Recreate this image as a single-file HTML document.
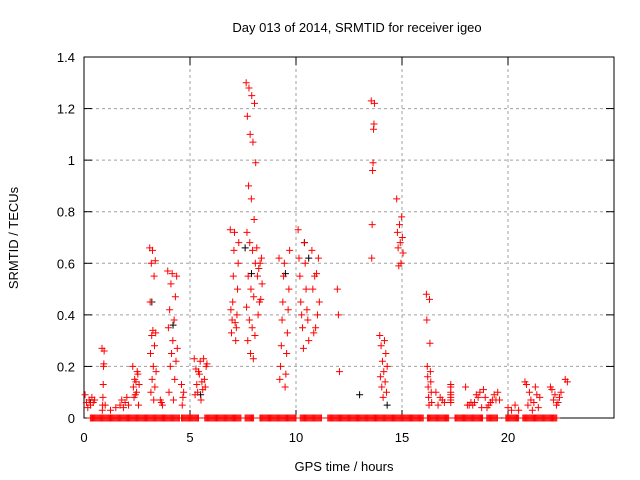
<!DOCTYPE html>
<html><head><meta charset="utf-8"><style>
body{margin:0;background:#fff}
svg{display:block;font-family:"Liberation Sans",sans-serif}
</style></head><body>
<svg id="chart" width="640" height="480">
<text x="357" y="32" font-size="13" text-anchor="middle">Day 013 of 2014, SRMTID for receiver igeo</text>
<text x="344" y="471" font-size="13" text-anchor="middle">GPS time / hours</text>
<text transform="translate(18,238) rotate(-90)" font-size="13" text-anchor="middle">SRMTID / TECUs</text>
<g id="grid"></g><g id="axes"></g><g id="marks"></g>
</svg>
<script>
const xTicks=[0,5,10,15,20];
const yTicks=[0,0.2,0.4,0.6,0.8,1,1.2,1.4];
const yTickLabels=["0","0.2","0.4","0.6","0.8","1","1.2","1.4"];
const clusterStart=[0.05,0.85,1.0,1.7,2.3,3.1,3.6,3.95,4.6,5.2,6.9,7.65,8.15,9.2,10.1,10.75,11.95,13.55,13.95,14.75,16.15,16.6,17.3,18.0,20.0,20.8,22.0,22.7];
const clusterEnd=[0.5,0.95,1.5,2.1,2.6,3.4,3.7,4.4,4.7,5.8,7.3,8.1,8.4,9.7,10.6,11.1,12.05,13.7,14.3,15.05,16.4,17.0,17.6,19.6,20.5,21.5,22.5,22.8];
const clusterValues=[
[0.09,0.07,0.06,0.08,0.05,0.07,0.04,0.06],
[0.27,0.26,0.21,0.2,0.13,0.08,0.05,0.03],
[0.05,0.03,0.04],
[0.05,0.07,0.04,0.06,0.08,0.05],
[0.2,0.18,0.15,0.13,0.1,0.08,0.05,0.14,0.12,0.17,0.09],
[0.66,0.65,0.61,0.6,0.55,0.45,0.34,0.33,0.32,0.28,0.25,0.2,0.18,0.15,0.12,0.1,0.07],
[0.07,0.06,0.05],
[0.57,0.56,0.55,0.52,0.47,0.42,0.38,0.35,0.3,0.27,0.25,0.22,0.2,0.15,0.1,0.07],
[0.13,0.1,0.08,0.05],
[0.23,0.22,0.2,0.18,0.15,0.13,0.11,0.09,0.07,0.21,0.17,0.12,0.1,0.23,0.19,0.14],
[0.73,0.72,0.68,0.65,0.6,0.55,0.5,0.45,0.4,0.38,0.35,0.33,0.3,0.42,0.37],
[1.3,1.28,1.25,1.22,1.17,1.1,1.07,0.99,0.9,0.85,0.77,0.72,0.68,0.65,0.6,0.55,0.5,0.47,0.43,0.38,0.35,0.32,0.3,0.25,0.23],
[0.66,0.62,0.6,0.58,0.55,0.52,0.46,0.45,0.4],
[0.62,0.6,0.65,0.55,0.5,0.45,0.42,0.38,0.33,0.28,0.25,0.2,0.17,0.15,0.12],
[0.73,0.68,0.62,0.6,0.55,0.5,0.45,0.42,0.4,0.38,0.35,0.3,0.27],
[0.65,0.62,0.56,0.55,0.5,0.45,0.4,0.35,0.33],
[0.5,0.4,0.18],
[1.23,1.22,1.14,1.12,0.99,0.96,0.75,0.62],
[0.32,0.3,0.28,0.25,0.22,0.2,0.18,0.16,0.14,0.12,0.1,0.08],
[0.85,0.78,0.75,0.72,0.7,0.68,0.66,0.64,0.6,0.59],
[0.48,0.46,0.38,0.29,0.2,0.18,0.16,0.14,0.12,0.1,0.08,0.06,0.05],
[0.1,0.08,0.06,0.05,0.07],
[0.13,0.12,0.1,0.08,0.07,0.06,0.09],
[0.12,0.08,0.06,0.05,0.1,0.07,0.05,0.04,0.09,0.06,0.11,0.07,0.05,0.08,0.1,0.06,0.04,0.07,0.09,0.05],
[0.04,0.03,0.05,0.03],
[0.14,0.12,0.1,0.08,0.06,0.05,0.04,0.03,0.13,0.09,0.07],
[0.12,0.1,0.08,0.06,0.05,0.09,0.07,0.11],
[0.15,0.14]];
const blackHours=[3.2,4.2,7.6,7.9,9.5,10.4,10.6,13.0,14.3,0.3,5.5];
const blackValues=[0.45,0.36,0.66,0.56,0.56,0.68,0.62,0.09,0.05,0.06,0.09];
const zeroStart=[0.3,4.6,5.7,7.6,8.3,10.2,11.5,16.2,17.5,19.0,19.9,20.7];
const zeroEnd=[4.5,5.4,7.4,8.0,10.0,11.2,16.0,17.2,18.8,19.5,20.5,22.3];

const L=84,R=614,T=57,B=418;
const xs=h=>L+(R-L)*h/25;
const ys=v=>B-(B-T)*v/1.4;
const NS="http://www.w3.org/2000/svg";
function mk(tag,attrs,parent){const e=document.createElementNS(NS,tag);for(const k in attrs)e.setAttribute(k,attrs[k]);parent.appendChild(e);return e;}
const grid=document.getElementById('grid'),axes=document.getElementById('axes'),marks=document.getElementById('marks');
yTicks.forEach((v,i)=>{
  const y=ys(v);
  if(i>0&&i<yTicks.length-1){const g=mk('line',{x1:L,x2:R,y1:y,y2:y,stroke:'#a0a0a0','stroke-dasharray':'3,3'},grid);
  
  }
  mk('line',{x1:L,x2:L+8,y1:y,y2:y,stroke:'#000'},axes);
  mk('line',{x1:R,x2:R-8,y1:y,y2:y,stroke:'#000'},axes);
  const t=mk('text',{x:L-9,y:y+5,'font-size':13,'text-anchor':'end'},axes);
  t.textContent=yTickLabels[i];
  
  
});
xTicks.forEach(h=>{
  const x=xs(h);
  if(h>0){const g=mk('line',{x1:x,x2:x,y1:T,y2:B,stroke:'#a0a0a0','stroke-dasharray':'3,3'},grid);
  
  }
  mk('line',{x1:x,x2:x,y1:B,y2:B-8,stroke:'#000'},axes);
  mk('line',{x1:x,x2:x,y1:T,y2:T+8,stroke:'#000'},axes);
  const t=mk('text',{x:x,y:B+24,'font-size':13,'text-anchor':'middle'},axes);
  t.textContent=String(h);
  
  
});
const frame=mk('rect',{x:L,y:T,width:R-L,height:B-T,fill:'none',stroke:'#000'},axes);


function plus(h,v,color){
  const x=xs(h),y=ys(v);
  const p=mk('path',{d:`M${x-3.5},${y}H${x+3.5}M${x},${y-3.5}V${y+3.5}`,stroke:color,'stroke-width':1,fill:'none'},marks);
  
  
}
blackHours.forEach((h,i)=>plus(h,blackValues[i],'#000'));
clusterValues.forEach((vals,c)=>{
  const a=clusterStart[c],b=clusterEnd[c];
  vals.forEach((v,i)=>{const h=vals.length>1?a+(b-a)*((i*7)%vals.length)/(vals.length-1):a;plus(h,v,'#f00');});
});
zeroStart.forEach((a,i)=>{for(let h=a;h<=zeroEnd[i]+1e-9;h+=0.05)plus(h,0,'#f00');});
</script>
</body></html>
